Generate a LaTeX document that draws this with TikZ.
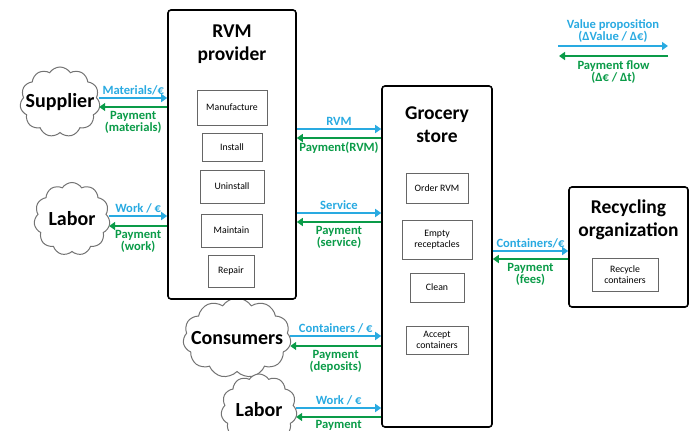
\documentclass[tikz,border=0pt]{standalone}
\usepackage{fontspec}
\setmainfont{Carlito}
\usetikzlibrary{arrows.meta,shapes.symbols}
\definecolor{flowblue}{HTML}{29AAE1}
\definecolor{flowgreen}{HTML}{0A9B48}
\begin{document}
\begin{tikzpicture}[x=1pt,y=-1pt,
  actor/.style={draw=black,line width=1.6pt,rounded corners=3pt,fill=white,inner sep=0pt},
  activity/.style={draw=black!60,line width=0.8pt,font=\fontsize{9.8}{11}\selectfont,align=center,inner sep=1pt},
  title/.style={font=\fontsize{19.5}{23}\selectfont\bfseries,align=center},
  party/.style={cloud,cloud puffs=11,cloud puff arc=115,draw=black!55,line width=1pt,fill=white,
    inner sep=0pt,outer sep=0pt},
  partyname/.style={font=\fontsize{20}{22}\selectfont\bfseries,inner sep=0pt},
  value/.style={draw=flowblue,line width=2.6pt,-{Triangle[length=6pt,width=8pt]}},
  pay/.style={draw=flowgreen,line width=2.6pt,-{Triangle[length=6pt,width=8pt]}},
  vlabel/.style={text=flowblue,font=\fontsize{12.6}{12.5}\selectfont\bfseries,inner sep=1pt,align=center},
  plabel/.style={text=flowgreen,font=\fontsize{12.6}{12.5}\selectfont\bfseries,inner sep=1pt,align=center},
]
\useasboundingbox (0,0) rectangle (699,431);

% ---- external parties ----
\node[party,minimum width=80pt,minimum height=70pt] (sup) at (60,102) {};
\node[partyname] (supt) at (sup.center) {Supplier};
\node[party,minimum width=76pt,minimum height=73pt] (lab1) at (72,219) {};
\node[partyname] (lab1t) at (lab1.center) {Labor};
\node[party,minimum width=108pt,minimum height=80pt] (cons) at (237,338) {};
\node[partyname] (const) at (cons.center) {Consumers};
\node[party,minimum width=76pt,minimum height=72pt] (lab2) at (259,410) {};
\node[partyname] (lab2t) at (lab2.center) {Labor};

% ---- main actors ----
\node[actor,minimum width=128pt,minimum height=289pt] (rvm) at (232,154.5) {};
\node[title] (rvmt) at (232,44) {RVM\\provider};
\node[activity,minimum width=70pt,minimum height=35pt] (manu) at (232,107.5) {Manufacture};
\node[activity,minimum width=60pt,minimum height=28pt] (inst) at (232,147) {Install};
\node[activity,minimum width=64pt,minimum height=33pt] (unin) at (232,186.5) {Uninstall};
\node[activity,minimum width=61pt,minimum height=33pt] (main) at (231.5,230.5) {Maintain};
\node[activity,minimum width=46pt,minimum height=32pt] (repa) at (231,271) {Repair};

\node[actor,minimum width=110pt,minimum height=341pt] (groc) at (437,256.5) {};
\node[title] (groct) at (437,125) {Grocery\\store};
\node[activity,minimum width=62pt,minimum height=30pt] (order) at (437,188) {Order RVM};
\node[activity,minimum width=70pt,minimum height=39pt] (empty) at (437,239.5) {Empty\\receptacles};
\node[activity,minimum width=54pt,minimum height=29pt] (clean) at (437,287.5) {Clean};
\node[activity,minimum width=62pt,minimum height=28pt] (accept) at (437,340) {Accept\\containers};

\node[actor,minimum width=119pt,minimum height=120pt] (recy) at (628.5,247) {};
\node[title] (recyt) at (628.5,219.5) {Recycling\\organization};
\node[activity,minimum width=66pt,minimum height=33pt] (rcont) at (625,274.5) {Recycle\\containers};

% ---- flows ----
\draw[value] (sup.east |- 0,98) -- node[vlabel,above=1pt] {Materials/€} (rvm.west |- 0,98);
\draw[pay] (rvm.west |- 0,107) -- node[plabel,below=2pt] {Payment\\(materials)} (sup.east |- 0,107);

\draw[value] (lab1.east |- 0,216) -- node[vlabel,above=1pt] {Work / €} (rvm.west |- 0,216);
\draw[pay] (rvm.west |- 0,226) -- node[plabel,below=2pt] {Payment\\(work)} (lab1.east |- 0,226);

\draw[value] (rvm.east |- 0,129) -- node[vlabel,above=1pt] {RVM} (groc.west |- 0,129);
\draw[pay] (groc.west |- 0,138) -- node[plabel,below=2pt] {Payment(RVM)} (rvm.east |- 0,138);

\draw[value] (rvm.east |- 0,213) -- node[vlabel,above=1pt] {Service} (groc.west |- 0,213);
\draw[pay] (groc.west |- 0,222) -- node[plabel,below=2pt] {Payment\\(service)} (rvm.east |- 0,222);

\draw[value] (groc.east |- 0,251) -- node[vlabel,above=1pt] {Containers/€} (recy.west |- 0,251);
\draw[pay] (recy.west |- 0,259) -- node[plabel,below=2pt] {Payment\\(fees)} (groc.east |- 0,259);

\draw[value] (cons.east |- 0,336) -- node[vlabel,above=1pt] {Containers / €} (groc.west |- 0,336);
\draw[pay] (groc.west |- 0,346) -- node[plabel,below=2pt] {Payment\\(deposits)} (cons.east |- 0,346);

\draw[value] (lab2.east |- 0,408) -- node[vlabel,above=1pt] {Work / €} (groc.west |- 0,408);
\draw[pay] (groc.west |- 0,417) -- node[plabel,below=1pt] {Payment} (lab2.east |- 0,417);

% ---- legend ----
\coordinate (lva) at (558,46);
\coordinate (lvb) at (668,46);
\coordinate (lpa) at (668,56);
\coordinate (lpb) at (559,56);
\draw[value] (lva) -- node[vlabel,above=1pt] {Value proposition\\(ΔValue / Δ€)} (lvb);
\draw[pay] (lpa) -- node[plabel,below=2pt] {Payment flow\\(Δ€ / Δt)} (lpb);
\end{tikzpicture}
\end{document}
